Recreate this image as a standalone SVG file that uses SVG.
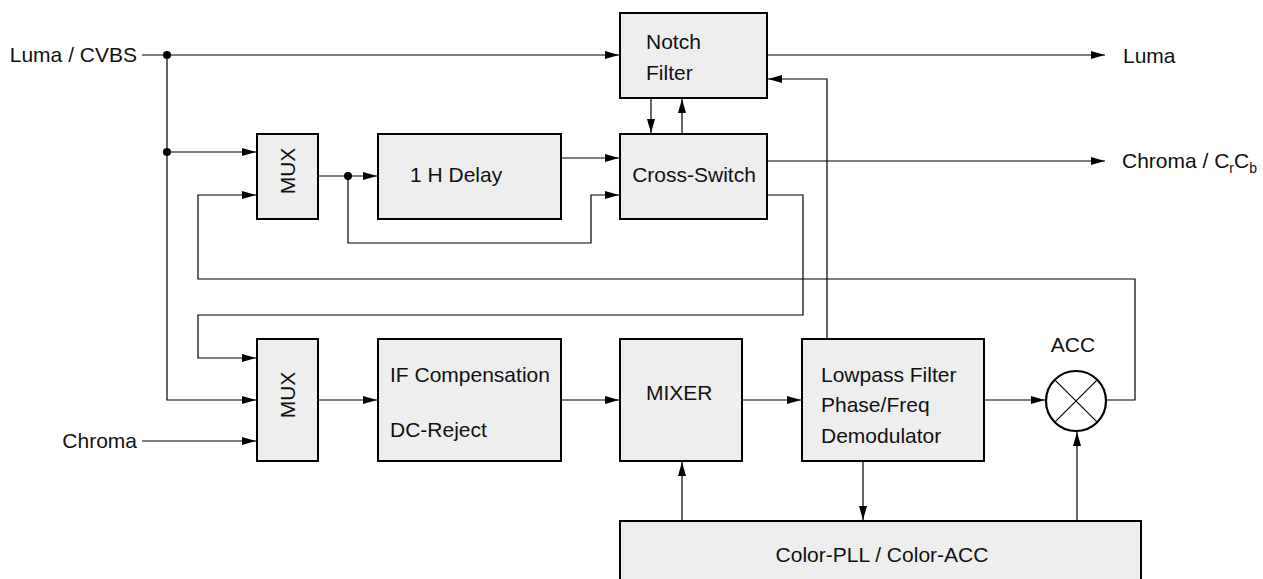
<svg xmlns="http://www.w3.org/2000/svg" width="1263" height="579" viewBox="0 0 1263 579">
<style>
  .box { fill: #eeeeee; stroke: #000; stroke-width: 2; }
  .ln { fill: none; stroke: #000; stroke-width: 1.2; }
  .arr { marker-end: url(#ah); }
  text { font-family: "Liberation Sans", Arial, sans-serif; font-size: 21px; fill: #111; }
  .dot { fill: #000; }
</style>
<defs>
  <marker id="ah" markerUnits="userSpaceOnUse" markerWidth="15" markerHeight="9" refX="14" refY="4" orient="auto">
    <path d="M0,0 L14,4 L0,8 z" fill="#000"/>
  </marker>
</defs>

<g id="connectors">
  <polyline class="ln arr" points="142,55 619,55"/>
  <polyline class="ln arr" points="167,55 167,400 256,400"/>
  <polyline class="ln arr" points="167,152 256,152"/>
  <polyline class="ln arr" points="319,176 377,176"/>
  <polyline class="ln arr" points="348,176 348,243 591,243 591,195 619,195"/>
  <polyline class="ln arr" points="562,158 619,158"/>
  <polyline class="ln arr" points="651,98 651,133"/>
  <polyline class="ln arr" points="682,134 682,99"/>
  <polyline class="ln arr" points="768,55 1105,55"/>
  <polyline class="ln arr" points="768,161 1105,161"/>
  <polyline class="ln arr" points="768,195 803,195 803,315 198,315 198,358 256,358"/>
  <polyline class="ln arr" points="1106,400 1135,400 1135,279 198,279 198,195 256,195"/>
  <polyline class="ln arr" points="827,339 827,79 768,79"/>
  <polyline class="ln arr" points="142,441 256,441"/>
  <polyline class="ln arr" points="319,400 377,400"/>
  <polyline class="ln arr" points="562,400 619,400"/>
  <polyline class="ln arr" points="743,400 801,400"/>
  <polyline class="ln arr" points="985,400 1045,400"/>
  <polyline class="ln arr" points="863,462 863,520"/>
  <polyline class="ln arr" points="682,520 682,462"/>
  <polyline class="ln arr" points="1077,520 1077,432"/>
  <circle class="dot" cx="167" cy="55" r="4"/>
  <circle class="dot" cx="167" cy="152" r="4"/>
  <circle class="dot" cx="348" cy="176" r="4"/>
</g>

<g id="labels">
  <text x="137" y="62" text-anchor="end">Luma / CVBS</text>
  <text x="137" y="448" text-anchor="end">Chroma</text>
  <text x="1123" y="63">Luma</text>
  <text x="1122" y="168">Chroma / C<tspan font-size="14" dy="5">r</tspan><tspan dy="-5">C</tspan><tspan font-size="14" dy="5">b</tspan></text>
</g>

<g id="mux1">
  <rect class="box" x="257" y="134" width="61" height="85"/>
  <text transform="translate(295,171) rotate(-90)" text-anchor="middle">MUX</text>
</g>
<g id="delay">
  <rect class="box" x="378" y="134" width="183" height="85"/>
  <text x="410" y="182">1 H Delay</text>
</g>
<g id="notch">
  <rect class="box" x="620" y="13" width="147" height="85"/>
  <text x="646" y="49">Notch</text>
  <text x="646" y="80">Filter</text>
</g>
<g id="crossswitch">
  <rect class="box" x="620" y="134" width="147" height="85"/>
  <text x="694" y="182" text-anchor="middle">Cross-Switch</text>
</g>
<g id="mux2">
  <rect class="box" x="257" y="339" width="61" height="122"/>
  <text transform="translate(295,395) rotate(-90)" text-anchor="middle">MUX</text>
</g>
<g id="ifcomp">
  <rect class="box" x="378" y="339" width="183" height="122"/>
  <text x="390" y="382">IF Compensation</text>
  <text x="390" y="437">DC-Reject</text>
</g>
<g id="mixer">
  <rect class="box" x="620" y="339" width="122" height="122"/>
  <text x="646" y="400">MIXER</text>
</g>
<g id="lowpass">
  <rect class="box" x="802" y="339" width="182" height="122"/>
  <text x="821" y="382">Lowpass Filter</text>
  <text x="821" y="412">Phase/Freq</text>
  <text x="821" y="443">Demodulator</text>
</g>
<g id="acc">
  <circle cx="1076" cy="401" r="30" fill="#fff" stroke="#000" stroke-width="2.2"/>
  <line class="ln" x1="1054.8" y1="379.8" x2="1097.2" y2="422.2"/>
  <line class="ln" x1="1097.2" y1="379.8" x2="1054.8" y2="422.2"/>
  <text x="1073" y="352" text-anchor="middle">ACC</text>
</g>
<g id="colorpll">
  <rect class="box" x="620" y="521" width="521" height="70"/>
  <text x="882" y="562" text-anchor="middle">Color-PLL / Color-ACC</text>
</g>
</svg>
